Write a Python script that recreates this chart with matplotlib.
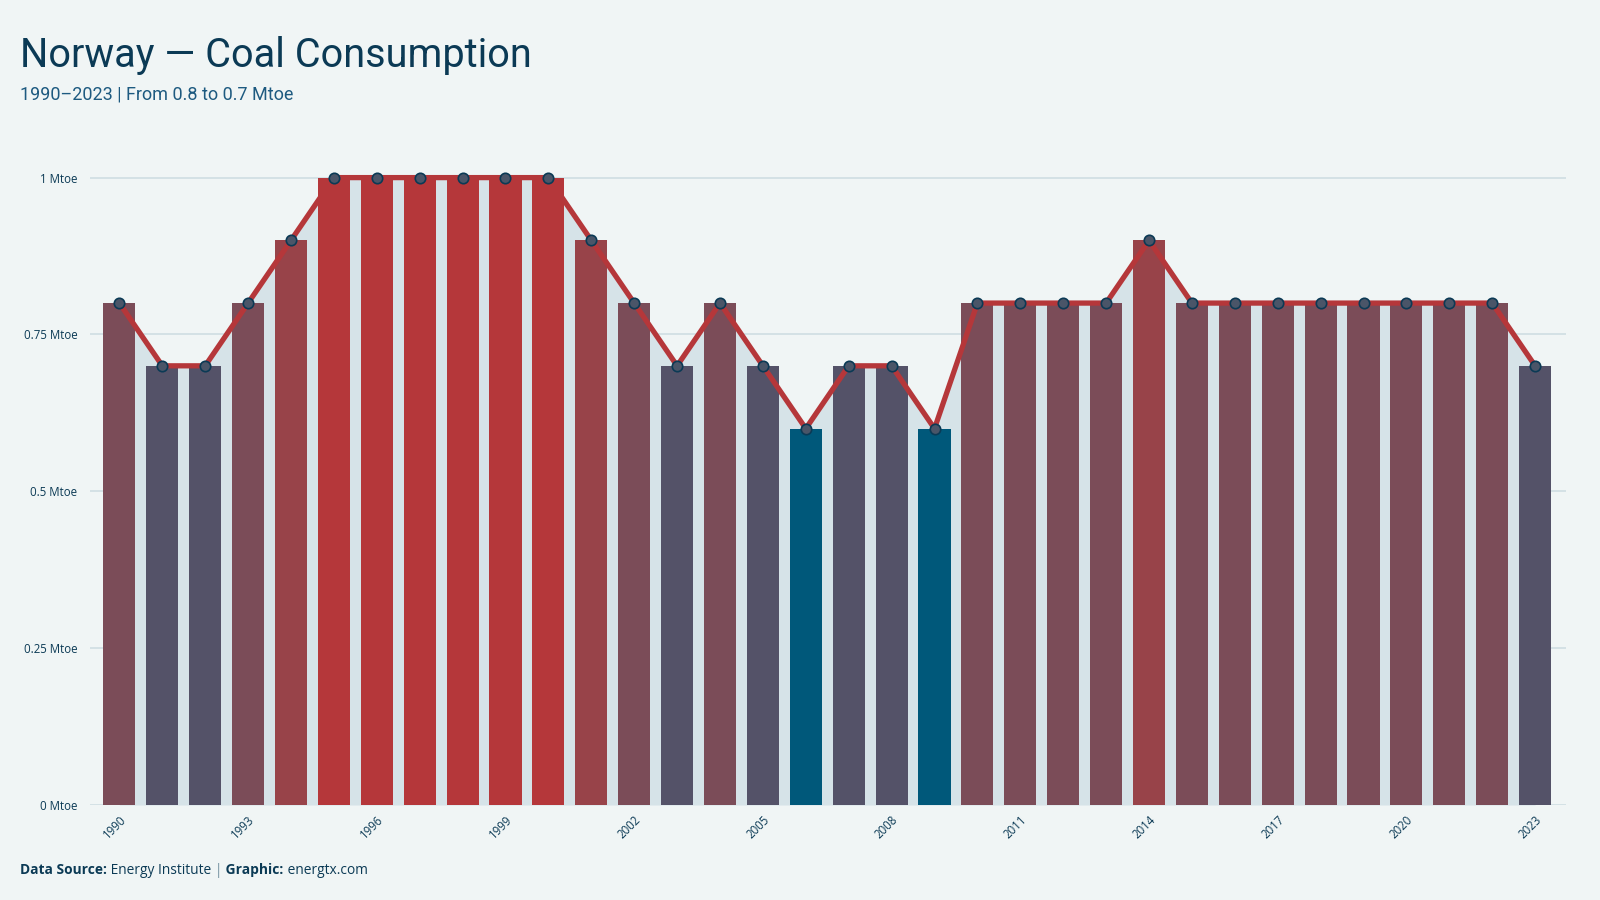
import matplotlib
matplotlib.use("Agg")
import matplotlib.pyplot as plt
from matplotlib.colors import LinearSegmentedColormap
import numpy as np

years = list(range(1990, 2024))
values = [0.8, 0.7, 0.7, 0.8, 0.9, 1.0, 1.0, 1.0, 1.0, 1.0, 1.0, 0.9, 0.8, 0.7, 0.8, 0.7, 0.6,
          0.7, 0.7, 0.6, 0.8, 0.8, 0.8, 0.8, 0.9, 0.8, 0.8, 0.8, 0.8, 0.8, 0.8, 0.8, 0.8, 0.7]
yticks = [0, 0.25, 0.5, 0.75, 1.0]
ytick_labels = ["0 Mtoe", "0.25 Mtoe", "0.5 Mtoe", "0.75 Mtoe", "1 Mtoe"]

bg = "#f0f5f5"
dark = "#0b3a55"
cmap = LinearSegmentedColormap.from_list(
    "coal", [(0, "#00587a"), (0.25, "#555268"), (0.5, "#7b4c58"), (0.75, "#984349"), (1, "#b5373a")])

title_font = ["Roboto", "DejaVu Sans"]
body_font = ["Open Sans", "DejaVu Sans"]

fig = plt.figure(figsize=(16, 9), dpi=100, facecolor=bg)
ax = fig.add_axes([90 / 1600, 1 - 805 / 900, (1566 - 90) / 1600, 1.05 * 627.4 / 900])
ax.set_facecolor(bg)

x = np.arange(len(years))
vmin, vmax = min(values), max(values)
colors = [cmap((v - vmin) / (vmax - vmin)) for v in values]

ax.fill_between(x, values, 0, color="#d6e3e8", lw=0, zorder=1)
ax.bar(x, values, width=0.75, color=colors, zorder=2)
ax.plot(x, values, color="#b5373a", lw=3.8, zorder=3)
ax.plot(x, values, ls="none", marker="o", ms=7.5, mfc="#4a5568", mec=dark, mew=1.2, zorder=4)

ax.set_xlim(-0.685, 33.72)
ax.set_ylim(0, 1.05)
ax.set_yticks(yticks)
ax.set_yticklabels(ytick_labels, fontsize=8.3, color=dark, family=body_font)
ax.yaxis.grid(True, color="#d2dfe4", lw=1.3, zorder=0)
ax.set_axisbelow(True)
ax.set_xticks(x[::3])
ax.set_xticklabels([str(y) for y in years[::3]], rotation=45, fontsize=8.3, color=dark,
                   family=body_font, ha="right", rotation_mode="anchor")
ax.tick_params(axis="y", length=0, pad=9)
ax.tick_params(axis="x", length=0, pad=6)
for s in ax.spines.values():
    s.set_visible(False)

fig.text(20 / 1600, 1 - 67 / 900, "Norway — Coal Consumption", fontsize=28.5, color=dark,
         family=title_font, va="baseline")
fig.text(20 / 1600, 1 - 100 / 900, "1990–2023 | From 0.8 to 0.7 Mtoe", fontsize=13,
         color="#1d5a80", family=title_font, va="baseline")

# footer with mixed weights
parts = [("Data Source:", "bold", dark), (" Energy Institute ", "normal", dark), ("|", "normal", "#6a8a9a"),
         (" Graphic:", "bold", dark), (" energtx.com", "normal", dark)]
fig.canvas.draw()
r = fig.canvas.get_renderer()
xpos = 20
for txt, w, c in parts:
    t = fig.text(xpos / 1600, 1 - 874 / 900, txt, fontsize=9.9, fontweight=w, color=c,
                 family=body_font, va="baseline")
    xpos += t.get_window_extent(r).width

fig.savefig("out.png", dpi=100, facecolor=bg)
